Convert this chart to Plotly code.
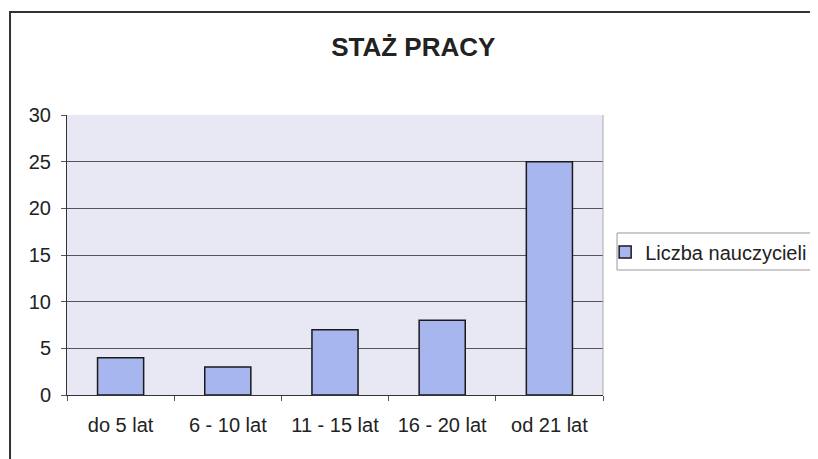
import plotly.graph_objects as go

categories = ["do 5 lat", "6 - 10 lat", "11 - 15 lat", "16 - 20 lat", "od 21 lat"]
teachers = [4, 3, 7, 8, 25]
y_ticks = [0, 5, 10, 15, 20, 25, 30]

FONT = "Liberation Sans, Arial, sans-serif"

fig = go.Figure(
    go.Bar(
        x=categories,
        y=teachers,
        name="Liczba nauczycieli",
        marker=dict(color="#A8B6F0", line=dict(color="#1a1a1a", width=1.5)),
    )
)

# the page puts the figure 8px in from the top-left, so margins are shifted
fig.update_layout(
    width=818,
    height=459,
    margin=dict(l=59, r=223, t=107, b=72, autoexpand=False),
    paper_bgcolor="white",
    plot_bgcolor="#E8E8F4",
    bargap=0.57,
    font=dict(family=FONT, size=20, color="#222"),
    title=dict(
        text="<b>STAŻ PRACY</b>",
        x=0.646,
        xref="paper",
        xanchor="center",
        y=0.915,
        yanchor="middle",
        font=dict(size=26, color="#222"),
    ),
    showlegend=True,
    legend=dict(
        x=1.004,
        xanchor="left",
        y=0.511,
        yanchor="middle",
        borderwidth=0,
        bgcolor="rgba(0,0,0,0)",
        font=dict(size=20),
        itemwidth=30,
    ),
)

fig.update_xaxes(
    showline=True,
    linecolor="#333",
    linewidth=1,
    ticks="outside",
    tickson="boundaries",
    ticklen=5,
    tickcolor="#555",
    ticklabelstandoff=12,
    showgrid=False,
)
fig.update_yaxes(
    range=[0, 30],
    tickvals=y_ticks,
    showline=True,
    linecolor="#333",
    linewidth=1,
    ticks="outside",
    ticklen=5,
    tickcolor="#555",
    ticklabelstandoff=6,
    showgrid=True,
    gridcolor="#555",
    gridwidth=1,
    zeroline=False,
)

# right edge of the plot area
fig.add_shape(type="line", xref="paper", yref="paper", x0=1, x1=1, y0=0, y1=1,
              line=dict(color="#aaa", width=1))

# legend frame
fig.add_shape(type="rect", xref="paper", yref="paper",
              x0=1.0262, x1=1.5, y0=0.4464, y1=0.5786,
              line=dict(color="#999", width=1), layer="below")

# outer chart border (cut off by the page edge on the right and bottom)
fig.add_shape(type="rect", xref="paper", yref="paper",
              x0=-0.1063, x1=1.43, y0=-0.27, y1=1.368,
              line=dict(color="#333", width=2), layer="below")

fig.write_html("out.html")
